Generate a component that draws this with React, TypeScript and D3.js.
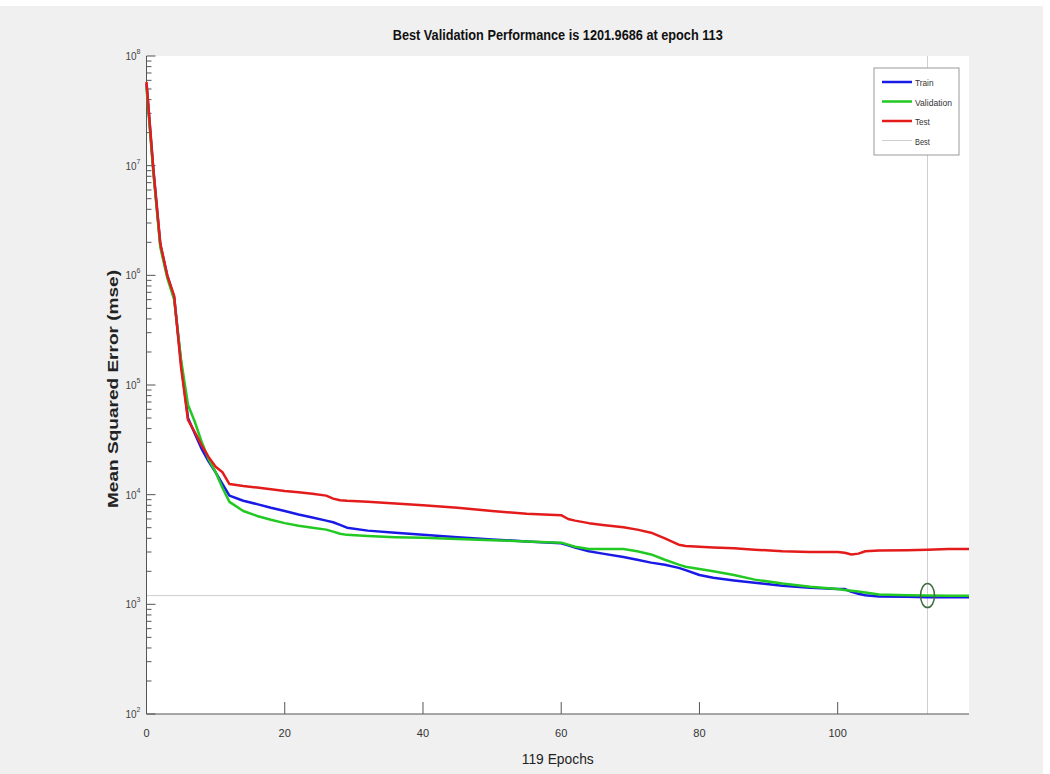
import React, { useEffect, useRef } from "react";
import * as d3 from "d3";

const epochs = [0, 1, 2, 3, 4, 5, 6, 7, 8, 9, 10, 11, 12, 14, 16, 18, 20, 22, 24, 26, 27, 28, 29, 32, 36, 40, 45, 50, 55, 60, 61, 62, 64, 66, 69, 71, 73, 75, 77, 78, 80, 82, 85, 88, 92, 96, 100, 101, 102, 103, 104, 106, 110, 113, 116, 119];

const trainMse = [5.6e7, 9.0e6, 1.9e6, 1.0e6, 6.3e5, 1.6e5, 5.0e4, 3.6e4, 2.6e4, 2.0e4, 1.6e4, 1.25e4, 9.8e3, 8.8e3, 8.2e3, 7.6e3, 7.1e3, 6.6e3, 6.2e3, 5.8e3, 5.6e3, 5.3e3, 5.0e3, 4.7e3, 4.5e3, 4.3e3, 4.1e3, 3.9e3, 3.75e3, 3.6e3, 3.45e3, 3.3e3, 3.05e3, 2.9e3, 2.7e3, 2.55e3, 2.4e3, 2.3e3, 2.15e3, 2.05e3, 1.85e3, 1.75e3, 1.65e3, 1.57e3, 1.48e3, 1.42e3, 1.38e3, 1.38e3, 1.3e3, 1.25e3, 1.21e3, 1.18e3, 1.17e3, 1.16e3, 1.16e3, 1.16e3];

const validationMse = [5.2e7, 8.5e6, 1.8e6, 9.5e5, 6.0e5, 1.7e5, 6.6e4, 4.6e4, 3.0e4, 2.1e4, 1.6e4, 1.15e4, 8.6e3, 7.1e3, 6.4e3, 5.9e3, 5.5e3, 5.2e3, 5.0e3, 4.8e3, 4.6e3, 4.4e3, 4.3e3, 4.2e3, 4.1e3, 4.05e3, 3.95e3, 3.85e3, 3.75e3, 3.65e3, 3.5e3, 3.35e3, 3.2e3, 3.2e3, 3.2e3, 3.05e3, 2.85e3, 2.55e3, 2.3e3, 2.2e3, 2.1e3, 2.0e3, 1.85e3, 1.68e3, 1.55e3, 1.45e3, 1.38e3, 1.35e3, 1.33e3, 1.31e3, 1.28e3, 1.23e3, 1.21e3, 1201.9686, 1.2e3, 1.2e3];

const testMse = [5.8e7, 9.2e6, 1.95e6, 1.0e6, 6.5e5, 1.45e5, 4.8e4, 3.7e4, 2.8e4, 2.2e4, 1.8e4, 1.6e4, 1.25e4, 1.2e4, 1.16e4, 1.12e4, 1.08e4, 1.05e4, 1.02e4, 9.8e3, 9.2e3, 8.9e3, 8.8e3, 8.6e3, 8.3e3, 8.0e3, 7.6e3, 7.1e3, 6.7e3, 6.5e3, 6.0e3, 5.8e3, 5.5e3, 5.3e3, 5.05e3, 4.8e3, 4.5e3, 4.0e3, 3.5e3, 3.4e3, 3.35e3, 3.3e3, 3.25e3, 3.15e3, 3.05e3, 3.0e3, 3.0e3, 2.95e3, 2.85e3, 2.9e3, 3.05e3, 3.1e3, 3.12e3, 3.15e3, 3.2e3, 3.2e3];

const bestEpoch = 113;
const bestPerf = 1201.9686;
const totalEpochs = 119;
const xTicks = [0, 20, 40, 60, 80, 100];
const yExponents = [2, 3, 4, 5, 6, 7, 8];
const seriesNames = ["Train", "Validation", "Test"];

export default function App() {
  const ref = useRef<SVGSVGElement>(null);

  useEffect(() => {
    const svg = d3.select(ref.current);
    svg.selectAll("*").remove();

    const left = 146.5, right = 969, top = 56, bottom = 714;

    svg.append("rect").attr("x", 0).attr("y", 0).attr("width", 1050).attr("height", 774).attr("fill", "#ffffff");
    svg.append("rect").attr("x", 0).attr("y", 6).attr("width", 1043).attr("height", 768).attr("fill", "#f0f0f0");
    svg.append("rect").attr("x", left).attr("y", top).attr("width", right - left).attr("height", bottom - top).attr("fill", "#ffffff");

    const x = d3.scaleLinear().domain([0, totalEpochs]).range([left, right]);
    const y = d3.scaleLog().domain([1e2, 1e8]).range([bottom, top]);

    // best lines
    svg.append("line")
      .attr("x1", left).attr("x2", right)
      .attr("y1", y(bestPerf)).attr("y2", y(bestPerf))
      .attr("stroke", "#cfcfcf").attr("stroke-width", 1);
    svg.append("line")
      .attr("x1", x(bestEpoch)).attr("x2", x(bestEpoch))
      .attr("y1", top).attr("y2", bottom)
      .attr("stroke", "#cfcfcf").attr("stroke-width", 1);

    // axes
    const axisColor = "#555";
    svg.append("line").attr("x1", left).attr("x2", left).attr("y1", top).attr("y2", bottom)
      .attr("stroke", axisColor).attr("stroke-width", 1);
    svg.append("line").attr("x1", left).attr("x2", right).attr("y1", bottom).attr("y2", bottom)
      .attr("stroke", axisColor).attr("stroke-width", 1);

    xTicks.forEach(t => {
      svg.append("line").attr("x1", x(t)).attr("x2", x(t)).attr("y1", bottom).attr("y2", bottom - 12)
        .attr("stroke", axisColor);
      svg.append("text").attr("x", x(t)).attr("y", bottom + 23)
        .attr("text-anchor", "middle").attr("font-family", "Liberation Sans, Arial, sans-serif")
        .attr("font-size", 11).attr("fill", "#333").text(t);
    });

    yExponents.forEach(e => {
      const yy = y(Math.pow(10, e));
      svg.append("line").attr("x1", left).attr("x2", left + 9).attr("y1", yy).attr("y2", yy).attr("stroke", axisColor);
      if (e < 8) {
        for (let m = 2; m <= 9; m++) {
          const ym = y(m * Math.pow(10, e));
          svg.append("line").attr("x1", left).attr("x2", left + 5).attr("y1", ym).attr("y2", ym).attr("stroke", axisColor);
        }
      }
      const lbl = svg.append("text").attr("x", left - 6).attr("y", yy + 4)
        .attr("text-anchor", "end").attr("font-family", "Liberation Sans, Arial, sans-serif")
        .attr("font-size", 10).attr("fill", "#444");
      lbl.append("tspan").text("10");
      lbl.append("tspan").attr("dy", -6).attr("font-size", 7).text(e);
    });

    // curves
    const colors = ["#1a1ae6", "#22c922", "#e31b1b"];
    const data = [trainMse, validationMse, testMse];
    const line = d3.line<number>()
      .x((d, i) => x(epochs[i]))
      .y(d => y(d));
    data.forEach((vals, k) => {
      svg.append("path").datum(vals)
        .attr("d", line)
        .attr("fill", "none")
        .attr("stroke", colors[k])
        .attr("stroke-width", 2.5)
        .attr("stroke-linejoin", "round");
    });

    // best marker
    svg.append("ellipse")
      .attr("cx", x(bestEpoch)).attr("cy", y(bestPerf))
      .attr("rx", 7).attr("ry", 12)
      .attr("fill", "none").attr("stroke", "#3d6b3d").attr("stroke-width", 1.5);

    // title & labels
    svg.append("text").attr("x", (left + right) / 2).attr("y", 40)
      .attr("text-anchor", "middle").attr("font-family", "Liberation Sans, Arial, sans-serif")
      .attr("font-size", 14).attr("font-weight", "bold").attr("fill", "#111")
      .attr("textLength", 330).attr("lengthAdjust", "spacingAndGlyphs")
      .text(`Best Validation Performance is ${bestPerf.toFixed(4)} at epoch ${bestEpoch}`);

    svg.append("text").attr("x", (left + right) / 2).attr("y", 764)
      .attr("text-anchor", "middle").attr("font-family", "Liberation Sans, Arial, sans-serif")
      .attr("font-size", 14).attr("fill", "#222")
      .attr("textLength", 72).attr("lengthAdjust", "spacingAndGlyphs")
      .text(`${totalEpochs} Epochs`);

    svg.append("text")
      .attr("transform", `translate(118,${(top + bottom) / 2 + 4}) rotate(-90)`)
      .attr("text-anchor", "middle").attr("font-family", "Liberation Sans, Arial, sans-serif")
      .attr("font-size", 14).attr("font-weight", "bold").attr("fill", "#222")
      .attr("textLength", 238).attr("lengthAdjust", "spacingAndGlyphs")
      .text("Mean Squared Error  (mse)");

    // legend
    const lg = svg.append("g");
    lg.append("rect").attr("x", 874).attr("y", 68).attr("width", 85).attr("height", 87)
      .attr("fill", "#fff").attr("stroke", "#9a9a9a").attr("stroke-width", 1);
    const names = [...seriesNames, "Best"];
    const legendColors = [...colors, "#cfcfcf"];
    names.forEach((n, i) => {
      const ly = 82 + i * 19.5;
      lg.append("line").attr("x1", 882).attr("x2", 912).attr("y1", ly).attr("y2", ly)
        .attr("stroke", legendColors[i]).attr("stroke-width", i < 3 ? 2.5 : 1);
      lg.append("text").attr("x", 915).attr("y", ly + 4)
        .attr("font-family", "Liberation Sans Narrow, Liberation Sans, Arial, sans-serif")
        .attr("font-size", 9.5).attr("fill", "#333")
        .attr("textLength", n.length * 3.7).attr("lengthAdjust", "spacingAndGlyphs")
        .text(n);
    });
  }, []);

  return (
    <svg ref={ref} width={1050} height={774}
      style={{ position: "absolute", left: 0, top: 0, display: "block" }} />
  );
}
